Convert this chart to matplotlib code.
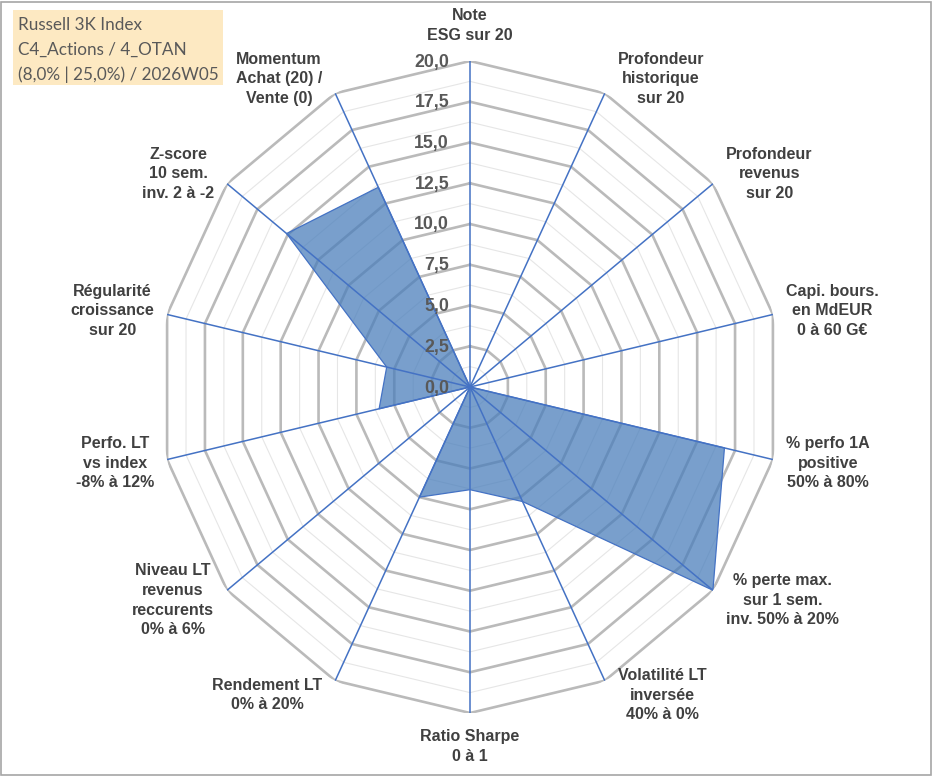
import numpy as np
import matplotlib
matplotlib.use("Agg")
import matplotlib.pyplot as plt
from matplotlib.patches import Rectangle

# Axis labels, clockwise from the top
categories = [
    "Note\nESG sur 20",
    "Profondeur\nhistorique\nsur 20",
    "Profondeur\nrevenus\nsur 20",
    "Capi. bours.\nen MdEUR\n0 à 60 G€",
    "% perfo 1A\npositive\n50% à 80%",
    "% perte max.\nsur 1 sem.\ninv. 50% à 20%",
    "Volatilité LT\ninversée\n40% à 0%",
    "Ratio Sharpe\n0 à 1",
    "Rendement LT\n0% à 20%",
    "Niveau LT\nrevenus\nreccurents\n0% à 6%",
    "Perfo. LT\nvs index\n-8% à 12%",
    "Régularité\ncroissance\nsur 20",
    "Z-score\n10 sem.\ninv. 2 à -2",
    "Momentum\nAchat (20) /\nVente (0)",
]
scores = [0, 0, 0, 0, 16.8, 20, 7.8, 6.3, 7.5, 0, 6.0, 5.5, 15.1, 13.6]

major_levels = [2.5, 5, 7.5, 10, 12.5, 15, 17.5, 20]
minor_levels = [1.25, 3.75, 6.25, 8.75, 11.25, 13.75, 16.25, 18.75]
tick_values = [0, 2.5, 5, 7.5, 10, 12.5, 15, 17.5, 20]
tick_labels = ["0,0", "2,5", "5,0", "7,5", "10,0", "12,5", "15,0", "17,5", "20,0"]

title_lines = ["Russell 3K Index", "C4_Actions / 4_OTAN", "(8,0% | 25,0%) / 2026W05"]

W, H = 933, 776
fig = plt.figure(figsize=(W / 100, H / 100), dpi=100)

# polar axes, stretched a bit vertically like the Excel original
cx, cy, rx, ry = 470, 387, 310.7, 326
ax = fig.add_axes([(cx - rx) / W, (H - cy - ry) / H, 2 * rx / W, 2 * ry / H],
                  projection="polar")
ax.set_aspect("auto")
ax.set_theta_zero_location("N")
ax.set_theta_direction(-1)
ax.set_ylim(0, 20)
ax.grid(False)
ax.set_xticks([])
ax.set_yticks([])
ax.spines["polar"].set_visible(False)
ax.patch.set_visible(False)

n = len(categories)
angles = np.linspace(0, 2 * np.pi, n, endpoint=False)
ring_t = np.append(angles, angles[0])

for lv in minor_levels:
    ax.plot(ring_t, [lv] * (n + 1), color="#E6E6E6", lw=0.8, zorder=1)
for lv in major_levels:
    ax.plot(ring_t, [lv] * (n + 1), color="#BABABA", lw=1.9, zorder=2)

vals = np.append(scores, scores[0])
ax.fill(ring_t, vals, color="#4A7EBB", alpha=0.74, lw=0, zorder=3)
ax.plot(ring_t, vals, color="#4472C4", lw=0.9, zorder=4)

for a in angles:
    ax.plot([a, a], [0, 20], color="#4472C4", lw=1.1, zorder=5)

# radial tick labels on the top axis
for v, lab in zip(tick_values, tick_labels):
    ax.annotate(lab, xy=(0, v), xytext=(-21, -1), textcoords="offset pixels",
                ha="right", va="center", fontsize=12.8, fontweight="bold",
                color="#595959", family="Liberation Sans", zorder=6)

# category labels around the outer ring
for a, lab in zip(angles, categories):
    s, c = np.sin(a), np.cos(a)
    if abs(s) < 1e-6:
        dx, dy, ha = 0, (18 if c > 0 else -16), "center"
        va = "bottom" if c > 0 else "top"
    else:
        dx, dy = 13 * np.sign(s), 16 * c
        ha, va = ("left" if s > 0 else "right"), "center"
    ax.annotate(lab, xy=(a, 20), xytext=(dx, dy), textcoords="offset pixels",
                ha=ha, va=va, multialignment="center", linespacing=1.38,
                fontsize=11.5, fontweight="bold", color="#404040",
                family="Liberation Sans", annotation_clip=False)

# title box
fig.patches.append(Rectangle((13 / W, 1 - 85 / H), 210 / W, 75 / H,
                             transform=fig.transFigure, facecolor="#FDE9C2",
                             edgecolor="none", zorder=0))
fig.text(18 / W, 1 - 17 / H, "\n".join(title_lines), ha="left", va="top",
         fontsize=12.3, color="#595959", family="Lato", linespacing=1.64)

# chart border
fig.patches.append(Rectangle((1 / W, 1 / H), 1 - 3 / W, 1 - 3 / H,
                             transform=fig.transFigure, facecolor="none",
                             edgecolor="#A6A6A6", lw=1.2))

fig.savefig("out.png", dpi=100)
